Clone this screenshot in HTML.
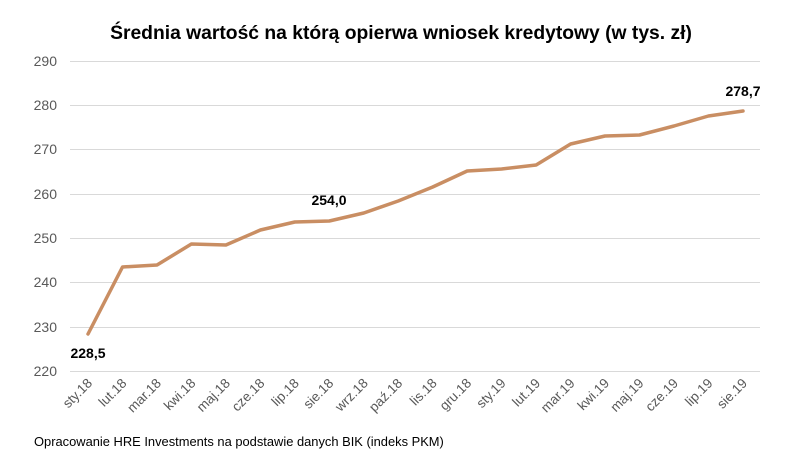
<!DOCTYPE html>
<html><head><meta charset="utf-8"><style>
body{margin:0;background:#fff;}
svg{display:block;font-family:"Liberation Sans",Arial,sans-serif;}
</style></head><body>
<svg width="804" height="466" viewBox="0 0 804 466" xmlns="http://www.w3.org/2000/svg">
<rect width="804" height="466" fill="#fff"/>
<text x="401" y="39" text-anchor="middle" font-size="19.3" font-weight="bold" fill="#000">Średnia wartość na którą opierwa wniosek kredytowy (w tys. zł)</text>
<g stroke="#d9d9d9" stroke-width="1">
<line x1="70" x2="760" y1="61.5" y2="61.5"/>
<line x1="70" x2="760" y1="105.5" y2="105.5"/>
<line x1="70" x2="760" y1="149.5" y2="149.5"/>
<line x1="70" x2="760" y1="194.5" y2="194.5"/>
<line x1="70" x2="760" y1="238.5" y2="238.5"/>
<line x1="70" x2="760" y1="282.5" y2="282.5"/>
<line x1="70" x2="760" y1="327.5" y2="327.5"/>
<line x1="70" x2="760" y1="371.5" y2="371.5"/>
</g>
<g font-size="14" fill="#595959" text-anchor="end">
<text x="57" y="66">290</text><text x="57" y="110">280</text><text x="57" y="154">270</text>
<text x="57" y="199">260</text><text x="57" y="243">250</text><text x="57" y="287">240</text>
<text x="57" y="332">230</text><text x="57" y="376">220</text>
</g>
<polyline fill="none" stroke="#c98e63" stroke-width="3.5" stroke-linejoin="round" stroke-linecap="round"
points="88,334 122.5,267 157,265 191.4,244 225.9,245 260.4,230 294.8,222 329.3,221 363.8,213 398.2,201 432.7,187 467.2,171 501.6,169 536.1,165 570.6,144 605,136 639.5,135 674,126 708.4,116 743,111"/>
<g font-size="14" font-weight="bold" fill="#000" text-anchor="middle">
<text x="88" y="358">228,5</text>
<text x="329" y="205">254,0</text>
<text x="743" y="96">278,7</text>
</g>
<g font-size="13.5" fill="#595959" text-anchor="end">
<text transform="translate(93,384) rotate(-45)">sty.18</text>
<text transform="translate(127.5,384) rotate(-45)">lut.18</text>
<text transform="translate(162,384) rotate(-45)">mar.18</text>
<text transform="translate(196.4,384) rotate(-45)">kwi.18</text>
<text transform="translate(230.9,384) rotate(-45)">maj.18</text>
<text transform="translate(265.4,384) rotate(-45)">cze.18</text>
<text transform="translate(299.8,384) rotate(-45)">lip.18</text>
<text transform="translate(334.3,384) rotate(-45)">sie.18</text>
<text transform="translate(368.8,384) rotate(-45)">wrz.18</text>
<text transform="translate(403.2,384) rotate(-45)">paź.18</text>
<text transform="translate(437.7,384) rotate(-45)">lis.18</text>
<text transform="translate(472.2,384) rotate(-45)">gru.18</text>
<text transform="translate(506.6,384) rotate(-45)">sty.19</text>
<text transform="translate(541.1,384) rotate(-45)">lut.19</text>
<text transform="translate(575.6,384) rotate(-45)">mar.19</text>
<text transform="translate(610,384) rotate(-45)">kwi.19</text>
<text transform="translate(644.5,384) rotate(-45)">maj.19</text>
<text transform="translate(679,384) rotate(-45)">cze.19</text>
<text transform="translate(713.4,384) rotate(-45)">lip.19</text>
<text transform="translate(748,384) rotate(-45)">sie.19</text>
</g>
<text x="34" y="446" font-size="12.9" fill="#000">Opracowanie HRE Investments na podstawie danych BIK (indeks PKM)</text>
</svg>
</body></html>
